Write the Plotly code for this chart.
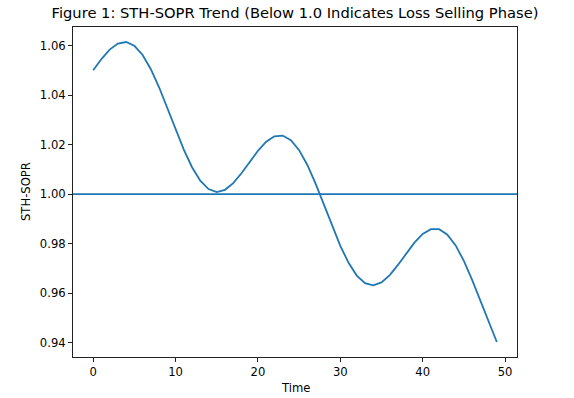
import plotly.graph_objects as go

time = list(range(50))
sopr = [1.05000, 1.05454, 1.05837, 1.06083, 1.06144, 1.05991, 1.05619, 1.05046, 1.04315, 1.03482,
        1.02619, 1.01798, 1.01086, 1.00542, 1.00202, 1.00082, 1.00173, 1.00444, 1.00841, 1.01300,
        1.01748, 1.02114, 1.02335, 1.02365, 1.02179, 1.01774, 1.01175, 1.00424, 0.99583, 0.98721,
        0.97912, 0.97223, 0.96708, 0.96400, 0.96313, 0.96434, 0.96727, 0.97138, 0.97600, 0.98040,
        0.98388, 0.98582, 0.98581, 0.98362, 0.97926, 0.97301, 0.96531, 0.95683, 0.94824, 0.94025]
threshold = 1.0
x_ticks = [0, 10, 20, 30, 40, 50]
y_ticks = [0.94, 0.96, 0.98, 1.00, 1.02, 1.04, 1.06]

blue = "#1f77b4"
font = "DejaVu Sans"

fig = go.Figure()
fig.add_trace(go.Scatter(x=time, y=sopr, mode="lines",
                         line=dict(color=blue, width=1.8), showlegend=False))
fig.add_hline(y=threshold, line=dict(color=blue, width=1.8), layer="above")

ymin, ymax = min(sopr), max(sopr)
yr = ymax - ymin
xr = max(time) - min(time)

axis_common = dict(showgrid=False, zeroline=False, showline=True, linecolor="#222222",
                   linewidth=1, mirror=True, ticks="outside", ticklen=4, tickwidth=1,
                   tickcolor="#222222", tickfont=dict(family=font, size=11.6, color="black"))

fig.update_xaxes(range=[min(time) - 0.05 * xr, max(time) + 0.05 * xr],
                 tickvals=x_ticks, ticktext=[str(v) for v in x_ticks], **axis_common)
fig.update_yaxes(range=[ymin - 0.05 * yr, ymax + 0.05 * yr],
                 tickvals=y_ticks, ticktext=[f"{v:.2f}" for v in y_ticks], **axis_common)

fig.update_layout(
    width=574, height=398,
    margin=dict(l=73, r=57, t=27, b=41),
    paper_bgcolor="white", plot_bgcolor="white",
    hovermode=False,
    title=dict(text="Figure 1: STH-SOPR Trend (Below 1.0 Indicates Loss Selling Phase)",
               x=0.5, xref="paper", y=1 - 13 / 398, yref="container", yanchor="middle",
               xanchor="center", font=dict(family=font, size=14.7, color="black")),
    annotations=[
        dict(text="Time", x=0.5, y=-31 / 330, xref="paper", yref="paper",
             showarrow=False, yanchor="middle", xanchor="center",
             font=dict(family=font, size=11.6, color="black")),
        dict(text="STH-SOPR", x=-47 / 444, y=0.5, xref="paper", yref="paper",
             showarrow=False, textangle=-90, yanchor="middle", xanchor="center",
             font=dict(family=font, size=11.6, color="black")),
    ],
)

fig.write_html("out.html", config={"displayModeBar": False},
               post_script="document.body.style.margin='0';document.body.style.overflow='hidden';")
